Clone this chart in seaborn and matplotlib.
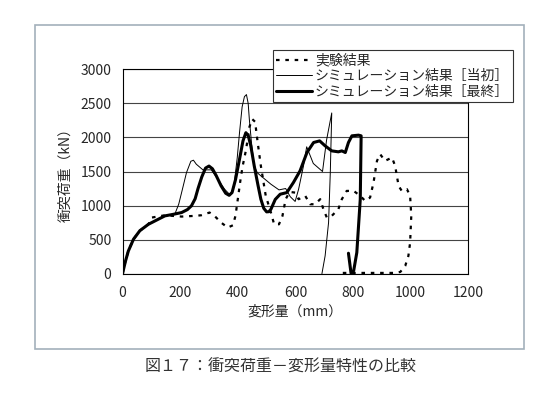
import matplotlib
matplotlib.use("Agg")
import matplotlib.pyplot as plt
import seaborn as sns
from matplotlib.patches import Rectangle

# 実験結果
exp_x = [0, 10, 20, 38, 60, 90, 101, 147, 205, 250, 273, 302, 319, 342, 365, 383, 392, 400, 410, 417, 429, 440, 450,
         460, 469, 480, 497, 515, 526, 543, 555, 566, 580, 599, 611, 634, 651, 668, 686, 697, 709, 726,
         749, 761, 778, 802, 825, 842, 859, 871, 883, 894, 911, 935, 946, 958, 969, 987, 998, 1002, 998,
         992, 981, 964, 946, 900, 850, 800, 755]
exp_y = [0, 180, 330, 505, 630, 725, 823, 857, 838, 848, 857, 897, 848, 750, 676, 710, 850, 1093, 1400, 1583, 1828, 2150, 2270,
         2230, 1926, 1583, 1142, 897, 725, 725, 848, 1093, 1200, 1190, 1093, 1142, 1019, 1019, 1093, 946, 823, 848,
         946, 1093, 1215, 1215, 1142, 1068, 1117, 1338, 1656, 1754, 1656, 1705, 1583, 1289, 1215, 1240, 1142, 848, 456,
         260, 113, 25, 10, 10, 10, 10, 10]

# シミュレーション結果［当初］
init_x = [0, 10, 20, 38, 60, 90, 120, 147, 182, 195, 205, 222, 237, 246, 256, 279, 308, 331, 354, 371, 380, 388, 398, 406,
          415, 423, 430, 436, 440, 448, 457, 468, 480, 515, 543, 566, 582, 599, 611, 628, 639, 662, 694, 708, 726,
          721, 715, 703, 692]
init_y = [0, 180, 330, 505, 630, 725, 790, 848, 880, 1020, 1191, 1485, 1650, 1666, 1607, 1524, 1524, 1387, 1240, 1166, 1200, 1338, 1700, 2073,
          2450, 2600, 2630, 2500, 2269, 1900, 1583, 1480, 1436, 1313, 1230, 1250, 1130, 1060, 1240, 1583, 1863, 1618, 1500, 1961, 2360,
          1485, 750, 260, 0]

# シミュレーション結果［最終］
final_x = [0, 10, 20, 38, 60, 90, 120, 147, 175, 205, 225, 239, 252, 262, 275, 288, 300, 312, 325, 342, 358, 370, 380,
           392, 406, 418, 428, 436, 445, 457, 470, 480, 490, 500, 508, 515, 530, 547, 570, 593, 616, 640, 663, 684,
           703, 726, 749, 761, 773, 784, 796, 819, 828, 825, 813, 802, 793, 784]
final_y = [0, 180, 330, 505, 630, 725, 790, 848, 870, 897, 940, 995, 1100, 1250, 1420, 1550, 1580, 1540, 1440, 1289, 1180, 1150, 1190,
           1380, 1681, 1950, 2070, 2030, 1880, 1583, 1300, 1093, 960, 907, 910, 946, 1090, 1166, 1190, 1338, 1509, 1779, 1926, 1950,
           1877, 1803, 1789, 1803, 1779, 1926, 2024, 2034, 2024, 1093, 309, 39, 5, 299]

sns.set_style("white")
plt.rcParams['font.family'] = ['Noto Sans CJK JP', 'DejaVu Sans']

fig = plt.figure(figsize=(5.57, 4.0), dpi=100)
ax = fig.add_axes([0.22, 0.316, 0.6208, 0.5105])

sns.lineplot(x=exp_x, y=exp_y, sort=False, estimator=None, ax=ax, color='black',
             linewidth=1.6, linestyle=(0, (1.6, 2.6)), label='実験結果', legend=False)
sns.lineplot(x=init_x, y=init_y, sort=False, estimator=None, ax=ax, color='black',
             linewidth=0.7, label='シミュレーション結果［当初］', legend=False)
sns.lineplot(x=final_x, y=final_y, sort=False, estimator=None, ax=ax, color='black',
             linewidth=2.2, label='シミュレーション結果［最終］', legend=False)

ax.set_xlim(0, 1200)
ax.set_ylim(0, 3000)
ax.set_xticks(range(0, 1201, 200))
ax.set_yticks(range(0, 3001, 500))
ax.yaxis.grid(True, color='#444444', linewidth=0.8)
ax.xaxis.grid(False)
for s in ax.spines.values():
    s.set_color('black')
    s.set_linewidth(0.8)
ax.tick_params(axis='x', direction='in', length=4, width=0.6, pad=9, labelsize=10)
ax.tick_params(axis='y', length=0, pad=8, labelsize=10)
ax.set_xlabel('変形量（mm）', fontsize=10, labelpad=3)
ax.set_ylabel('衝突荷重（kN）', fontsize=10, labelpad=6)

handles, labels = ax.get_legend_handles_labels()
leg = fig.legend(handles, labels, loc='upper left', bbox_to_anchor=(272.5 / 557, 350 / 400),
                 fontsize=10, frameon=True, fancybox=False, framealpha=1, edgecolor='#333333',
                 handlelength=2.6, handletextpad=0.2, labelspacing=0.12, borderpad=0.25, borderaxespad=0)
leg.get_frame().set_linewidth(0.8)

# 外枠
fig.patches.append(Rectangle((35 / 557, 51.5 / 400), 489 / 557, 323.5 / 400, transform=fig.transFigure,
                             fill=False, edgecolor='#a3b0bb', linewidth=1.2))

fig.text(0.503, 0.081, '図１７：衝突荷重－変形量特性の比較', ha='center', va='center', fontsize=11.5, color='#333333')

fig.savefig('out.png', dpi=100)
